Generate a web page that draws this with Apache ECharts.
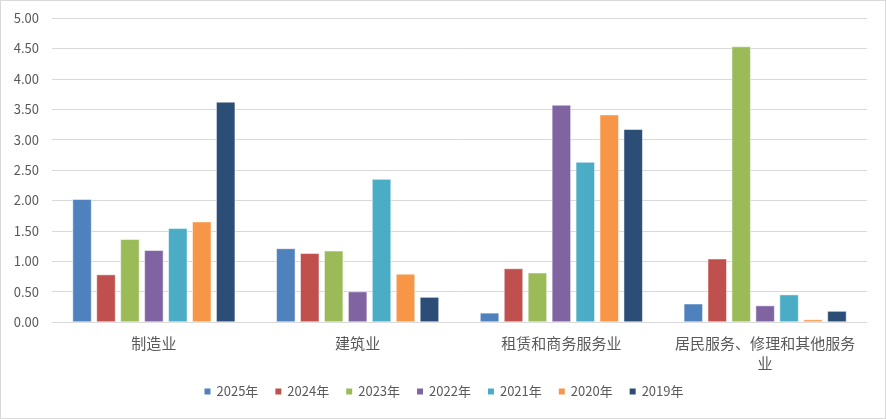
<!DOCTYPE html>
<html><head><meta charset="utf-8">
<script src="https://cdn.jsdelivr.net/npm/echarts@6/dist/echarts.min.js"></script>
<style>html,body{margin:0;padding:0;background:#fff}#c{width:884px;height:417px;border:1px solid #D9D9D9}</style>
</head><body><div id="c"></div>
<script>
const categories = ['制造业', '建筑业', '租赁和商务服务业', '居民服务、修理和其他服务业'];
const years = ['2025年', '2024年', '2023年', '2022年', '2021年', '2020年', '2019年'];
const v2025 = [2.02, 1.21, 0.15, 0.30];
const v2024 = [0.78, 1.13, 0.88, 1.04];
const v2023 = [1.36, 1.17, 0.81, 4.53];
const v2022 = [1.18, 0.50, 3.57, 0.27];
const v2021 = [1.54, 2.35, 2.63, 0.45];
const v2020 = [1.65, 0.79, 3.41, 0.04];
const v2019 = [3.62, 0.41, 3.17, 0.18];
const colors = ['#4F81BD', '#C0504D', '#9BBB59', '#8064A2', '#4BACC6', '#F79646', '#2C4D75'];
const values = [v2025, v2024, v2023, v2022, v2021, v2020, v2019];

const chart = echarts.init(document.getElementById('c'));
const font = '"Noto Sans CJK SC", "Noto Sans", sans-serif';
chart.setOption({
  animation: false,
  textStyle: { fontFamily: font },
  grid: { left: 51, right: 18, top: 17, bottom: 96 },
  legend: {
    bottom: 15, left: 'center',
    itemWidth: 8, itemHeight: 8, itemGap: 15,
    icon: 'rect',
    textStyle: { color: '#595959', fontSize: 13, fontFamily: font },
    data: years
  },
  xAxis: {
    type: 'category', data: categories,
    axisLine: { lineStyle: { color: '#D9D9D9', width: 1 } },
    axisTick: { show: false },
    axisLabel: { color: '#595959', fontSize: 15, margin: 11, width: 186, overflow: 'break', lineHeight: 20, interval: 0 }
  },
  yAxis: {
    type: 'value', min: 0, max: 5, interval: 0.5,
    axisLabel: { color: '#595959', fontSize: 13, margin: 13, formatter: v => v.toFixed(2) },
    splitLine: { lineStyle: { color: '#D9D9D9', width: 1 } },
    axisLine: { show: false }, axisTick: { show: false }
  },
  series: years.map((y, i) => ({
    name: y, type: 'bar', data: values[i],
    barWidth: 19, barGap: '26%',
    itemStyle: { color: colors[i], borderColor: '#fff', borderWidth: 0.5 }
  }))
});
</script></body></html>
